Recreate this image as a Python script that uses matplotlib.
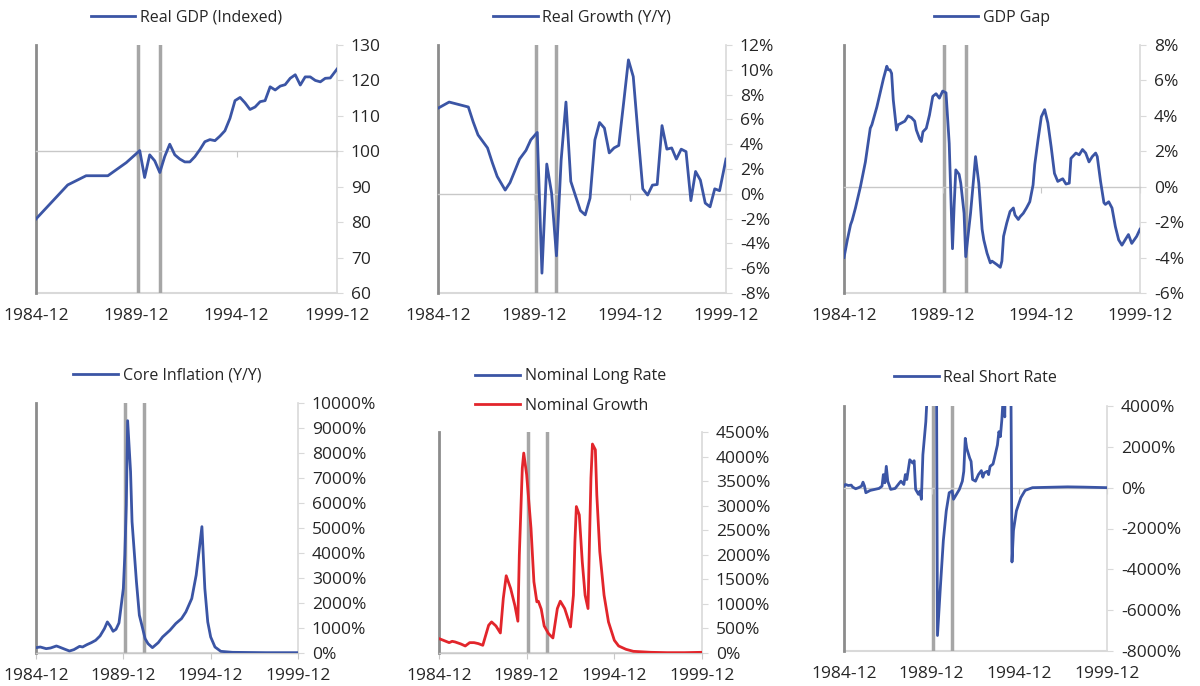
import numpy as np
import pandas as pd
import matplotlib
matplotlib.use('Agg')
import matplotlib.pyplot as plt
import matplotlib.dates as mdates

plt.rcParams['font.family'] = ['Open Sans', 'DejaVu Sans']

BLUE = '#3B55A5'
RED = '#E2252B'
REC_GREY = '#a6a6a6'
LIGHT = '#d9d9d9'
TXT = '#262626'

recessions = ['1990-01', '1991-02']
xtick_labels = ['1984-12', '1989-12', '1994-12', '1999-12']

# real GDP, indexed
gdp_dates = ['1984-12', '1986-07', '1987-06', '1988-07', '1989-06', '1990-02', '1990-05', '1990-08',
             '1990-11', '1991-02', '1991-05', '1991-08', '1991-11', '1992-02', '1992-05', '1992-08',
             '1992-11', '1993-02', '1993-05', '1993-08', '1993-11', '1994-02', '1994-05', '1994-08',
             '1994-11', '1995-02', '1995-05', '1995-08', '1995-11', '1996-02', '1996-05', '1996-08',
             '1996-11', '1997-02', '1997-05', '1997-08', '1997-11', '1998-02', '1998-05', '1998-08',
             '1998-11', '1999-02', '1999-05', '1999-08', '1999-12']
gdp_vals = [80.9, 90.5, 93.1, 93.1, 96.8, 100.2, 92.6, 99.0, 97.3, 94.0, 98.5, 102.0, 99.0, 97.8,
            97.0, 97.0, 98.5, 100.5, 102.7, 103.3, 103.0, 104.3, 105.8, 109.3, 114.3, 115.2, 113.7,
            111.8, 112.5, 114.0, 114.3, 118.2, 117.3, 118.4, 118.8, 120.6, 121.6, 118.7, 121.0,
            121.0, 120.0, 119.6, 120.6, 120.7, 123.2]

# real growth y/y, %
growth_dates = ['1984-12', '1985-07', '1986-07', '1986-10', '1987-01', '1987-07', '1987-10', '1988-01',
                '1988-06', '1988-09', '1988-12', '1989-03', '1989-07', '1989-10', '1990-02', '1990-05',
                '1990-08', '1990-11', '1991-02', '1991-05', '1991-08', '1991-11', '1992-02', '1992-05',
                '1992-08', '1992-11', '1993-02', '1993-05', '1993-08', '1993-11', '1994-02', '1994-05',
                '1994-08', '1994-11', '1995-02', '1995-05', '1995-08', '1995-11', '1996-02', '1996-05',
                '1996-08', '1996-11', '1997-02', '1997-05', '1997-08', '1997-11', '1998-02', '1998-05',
                '1998-08', '1998-11', '1999-02', '1999-05', '1999-08', '1999-12']
growth_vals = [6.9, 7.4, 7.0, 5.8, 4.75, 3.7, 2.5, 1.4, 0.3, 0.9, 1.85, 2.8, 3.5, 4.35, 4.95, -6.4,
               2.4, 0.05, -5.0, 2.7, 7.4, 1.0, -0.2, -1.35, -1.7, -0.35, 4.35, 5.75, 5.3, 3.3, 3.7,
               3.9, 7.3, 10.8, 9.45, 4.9, 0.4, -0.1, 0.7, 0.75, 5.5, 3.6, 3.7, 2.8, 3.6, 3.4, -0.55,
               1.8, 1.1, -0.75, -1.05, 0.4, 0.25, 2.8]

# GDP gap, %
gap_dates = ['1984-12', '1985-02', '1985-04', '1985-05', '1985-07', '1985-10', '1986-01', '1986-03',
             '1986-04', '1986-05', '1986-08', '1986-10', '1986-12', '1987-01', '1987-02', '1987-03',
             '1987-04', '1987-05', '1987-06', '1987-08', '1987-09', '1987-11', '1988-01', '1988-03',
             '1988-05', '1988-07', '1988-08', '1988-10', '1988-11', '1988-12', '1989-02', '1989-04',
             '1989-06', '1989-08', '1989-10', '1989-12', '1990-02', '1990-04', '1990-06', '1990-07',
             '1990-08', '1990-10', '1990-11', '1991-01', '1991-02', '1991-05', '1991-07', '1991-08',
             '1991-10', '1991-12', '1992-01', '1992-03', '1992-05', '1992-06', '1992-09', '1992-11',
             '1992-12', '1993-01', '1993-03', '1993-05', '1993-07', '1993-08', '1993-10', '1993-11',
             '1994-01', '1994-03', '1994-05', '1994-07', '1994-08', '1994-10', '1994-12', '1995-02',
             '1995-04', '1995-06', '1995-08', '1995-10', '1996-01', '1996-03', '1996-05', '1996-06',
             '1996-09', '1996-11', '1997-01', '1997-03', '1997-05', '1997-07', '1997-09', '1997-10',
             '1997-12', '1998-02', '1998-03', '1998-05', '1998-07', '1998-09', '1998-11', '1999-01',
             '1999-03', '1999-05', '1999-07', '1999-10', '1999-12']
gap_vals = [-4.0, -3.0, -2.15, -1.9, -1.2, 0.0, 1.4, 2.65, 3.3, 3.5, 4.5, 5.3, 6.1, 6.45, 6.8, 6.6,
            6.6, 6.4, 4.9, 3.2, 3.5, 3.6, 3.7, 4.0, 3.9, 3.7, 3.2, 2.7, 2.55, 3.1, 3.3, 4.05, 5.1,
            5.25, 5.0, 5.4, 5.3, 2.45, -3.5, -1.1, 0.95, 0.7, 0.2, -1.5, -3.95, -1.5, 0.6, 1.7, 0.2,
            -2.4, -3.0, -3.75, -4.3, -4.2, -4.4, -4.55, -4.2, -2.8, -2.05, -1.4, -1.2, -1.6, -1.85,
            -1.7, -1.5, -1.2, -0.85, 0.1, 1.25, 2.65, 3.95, 4.35, 3.6, 2.25, 0.75, 0.3, 0.45, 0.15,
            0.2, 1.6, 1.9, 1.8, 2.1, 1.9, 1.4, 1.7, 1.9, 1.7, 0.3, -0.9, -1.0, -0.85, -1.2, -2.25,
            -3.0, -3.3, -3.0, -2.7, -3.2, -2.8, -2.4]

# core inflation y/y, %
core_dates = ['1984-12', '1985-03', '1985-07', '1985-10', '1986-02', '1986-04', '1986-08', '1986-11',
              '1987-02', '1987-06', '1987-08', '1987-11', '1988-02', '1988-05', '1988-08', '1988-11',
              '1989-01', '1989-03', '1989-05', '1989-07', '1989-09', '1989-10', '1989-12', '1990-01',
              '1990-02', '1990-03', '1990-05', '1990-06', '1990-09', '1990-11', '1991-01', '1991-03',
              '1991-05', '1991-08', '1991-12', '1992-03', '1992-08', '1992-12', '1993-04', '1993-07',
              '1993-11', '1994-02', '1994-04', '1994-06', '1994-08', '1994-10', '1994-12', '1995-03',
              '1995-07', '1996-03', '1998-02', '1999-12']
core_vals = [214, 240, 174, 200, 281, 240, 147, 80, 134, 267, 240, 334, 414, 508, 682, 976, 1243,
             1083, 869, 949, 1203, 1645, 2580, 3917, 5923, 9292, 7260, 5254, 2848, 1511, 1043, 575,
             374, 214, 414, 642, 909, 1177, 1377, 1645, 2179, 3115, 4051, 5054, 2580, 1243, 642,
             240, 67, 27, 13, 13]

# nominal growth, %  (nominal long rate has no data in this window)
nom_dates = ['1984-12', '1985-03', '1985-07', '1985-09', '1985-11', '1986-03', '1986-06', '1986-09',
             '1986-12', '1987-03', '1987-06', '1987-08', '1987-10', '1987-12', '1988-03', '1988-06',
             '1988-08', '1988-10', '1989-01', '1989-04', '1989-06', '1989-07', '1989-09', '1989-10',
             '1989-12', '1990-03', '1990-05', '1990-07', '1990-08', '1990-10', '1990-12', '1991-03',
             '1991-06', '1991-09', '1991-11', '1992-02', '1992-05', '1992-06', '1992-08', '1992-09',
             '1992-10', '1992-12', '1993-02', '1993-04', '1993-06', '1993-07', '1993-08', '1993-09',
             '1993-11', '1993-12', '1994-02', '1994-05', '1994-08', '1994-12', '1995-03', '1995-08',
             '1996-01', '1997-01', '1997-12', '1998-12', '1999-12']
nom_vals = [293, 259, 211, 238, 225, 184, 143, 211, 211, 191, 157, 361, 565, 633, 551, 408, 1110,
            1573, 1314, 960, 647, 1995, 3765, 4071, 3629, 2539, 1450, 1042, 1055, 892, 551, 395, 306,
            905, 1055, 905, 633, 531, 1178, 2267, 2982, 2812, 1859, 1178, 905, 2267, 3561, 4255, 4139,
            3220, 2063, 1178, 633, 259, 143, 75, 34, 14, 7, 7, 14]
long_dates = []
long_vals = []

# real short rate, %
short_dates = ['1984-12', '1985-01', '1985-03', '1985-05', '1985-06', '1985-08', '1985-10', '1985-12',
               '1986-01', '1986-02', '1986-03', '1986-06', '1986-09', '1986-12', '1987-02', '1987-03',
               '1987-04', '1987-05', '1987-06', '1987-08', '1987-11', '1988-02', '1988-03', '1988-05',
               '1988-06', '1988-07', '1988-09', '1988-11', '1988-12', '1989-01', '1989-03', '1989-04',
               '1989-05', '1989-06', '1989-08', '1989-10', '1989-12', '1990-02', '1990-04', '1990-06',
               '1990-08', '1990-10', '1990-12', '1991-02', '1991-03', '1991-05', '1991-07', '1991-09',
               '1991-10', '1991-11', '1991-12', '1992-02', '1992-03', '1992-04', '1992-06', '1992-08',
               '1992-10', '1992-11', '1992-12', '1993-02', '1993-03', '1993-04', '1993-06', '1993-07',
               '1993-09', '1993-10', '1993-11', '1993-12', '1994-01', '1994-02', '1994-03', '1994-05',
               '1994-07', '1994-08', '1994-10', '1995-01', '1995-04', '1995-09', '1997-09', '1998-08',
               '1999-12']
short_vals = [76, 156, 108, 124, 27, -53, 0, 76, 270, 76, -247, -134, -85, -37, 76, 641, 238, 1045,
              318, -85, -37, 238, 318, 156, 641, 399, 1368, 1206, 1319, -85, -328, -166, -570, 1610,
              3225, 6000, 25000, 30000, -7240, -4850, -2590, -1136, -248, -166, -570, -328, -85, 318,
              800, 2417, 1933, 1450, 1287, 399, 318, 641, 835, 512, 722, 800, 641, 1045, 1157, 1450,
              2094, 2740, 2498, 3305, 4500, 3467, 9000, 20000, -3640, -2100, -1136, -490, -134, 0, 40,
              27, 0]


def dnum(dates):
    return mdates.date2num(pd.to_datetime(dates))


fig = plt.figure(figsize=(12, 6.86), dpi=100)
W, H = 1200, 686


def make_axes(left, top, right, bottom):
    return fig.add_axes([left / W, 1 - bottom / H, (right - left) / W, (bottom - top) / H])


def style(ax, ylim, step, base, pct, legend_off, box_h):
    xt = dnum(xtick_labels)
    ax.set_xlim(xt[0], xt[-1])
    ax.set_ylim(*ylim)
    ticks = np.arange(ylim[0], ylim[1] + step, step)
    if pct:
        ax.set_yticks(ticks, labels=[f'{t:.0f}%' for t in ticks])
    else:
        ax.set_yticks(ticks, labels=[f'{t:.0f}' for t in ticks])
    ax.yaxis.tick_right()
    ax.tick_params(axis='y', direction='out', length=4, color=LIGHT, labelsize=12.5,
                   pad=6, labelcolor=TXT)

    # x axis crosses at base value, labels at the bottom
    ax.set_xticks(xt)
    ax.tick_params(axis='x', direction='out', length=4, color='#c8c8c8', labelbottom=False)
    ax.spines['bottom'].set_position(('data', base))
    ax.spines['bottom'].set_color('#c8c8c8')
    ax.spines['bottom'].set_linewidth(1.0)
    ax.spines['top'].set_visible(False)
    ax.spines['right'].set_color(LIGHT)
    ax.spines['right'].set_linewidth(1.2)
    ax.spines['left'].set_color('#8c8c8c')
    ax.spines['left'].set_linewidth(2.0)

    sec = ax.secondary_xaxis(0)
    sec.set_xticks(xt, labels=xtick_labels)
    sec.tick_params(length=0, pad=11, labelsize=12.5, labelcolor=TXT)
    sec.spines['bottom'].set_color(LIGHT)
    sec.spines['bottom'].set_linewidth(1.5)

    for r in dnum(recessions):
        ax.axvline(r, color=REC_GREY, lw=2.5, zorder=1)

    leg = ax.legend(loc='center', bbox_to_anchor=(0.5, 1 + legend_off / box_h), frameon=False,
                    fontsize=11.5, handlelength=2.8, handletextpad=0.3, labelspacing=0.85,
                    borderaxespad=0)
    for t in leg.get_texts():
        t.set_color(TXT)


boxes = [(36, 45, 337, 293), (438, 45, 726, 293), (844, 45, 1140, 293),
         (36, 403, 298, 653), (439, 432, 702, 653), (844, 406, 1107, 651)]
axs = [make_axes(*b) for b in boxes]
lw = 2.0

ax = axs[0]
ax.plot(dnum(gdp_dates), gdp_vals, color=BLUE, lw=lw, zorder=3, label='Real GDP (Indexed)')
style(ax, (60, 130), 10, 100, False, 27, 248)

ax = axs[1]
ax.plot(dnum(growth_dates), growth_vals, color=BLUE, lw=lw, zorder=3, label='Real Growth (Y/Y)')
style(ax, (-8, 12), 2, 0, True, 27, 248)

ax = axs[2]
ax.plot(dnum(gap_dates), gap_vals, color=BLUE, lw=lw, zorder=3, label='GDP Gap')
style(ax, (-6, 8), 2, 0, True, 27, 248)

ax = axs[3]
ax.plot(dnum(core_dates), core_vals, color=BLUE, lw=lw, zorder=3, label='Core Inflation (Y/Y)')
style(ax, (0, 10000), 1000, 0, True, 27, 250)

ax = axs[4]
ax.plot(dnum(long_dates) if long_dates else [], long_vals, color=BLUE, lw=lw, zorder=3,
        label='Nominal Long Rate')
ax.plot(dnum(nom_dates), nom_vals, color=RED, lw=lw, zorder=3, label='Nominal Growth')
style(ax, (0, 4500), 500, 0, True, 41, 221)

ax = axs[5]
ax.plot(dnum(short_dates), short_vals, color=BLUE, lw=lw, zorder=3, label='Real Short Rate')
style(ax, (-8000, 4000), 2000, 0, True, 28, 245)

fig.savefig('out.png', dpi=100, facecolor='white')
